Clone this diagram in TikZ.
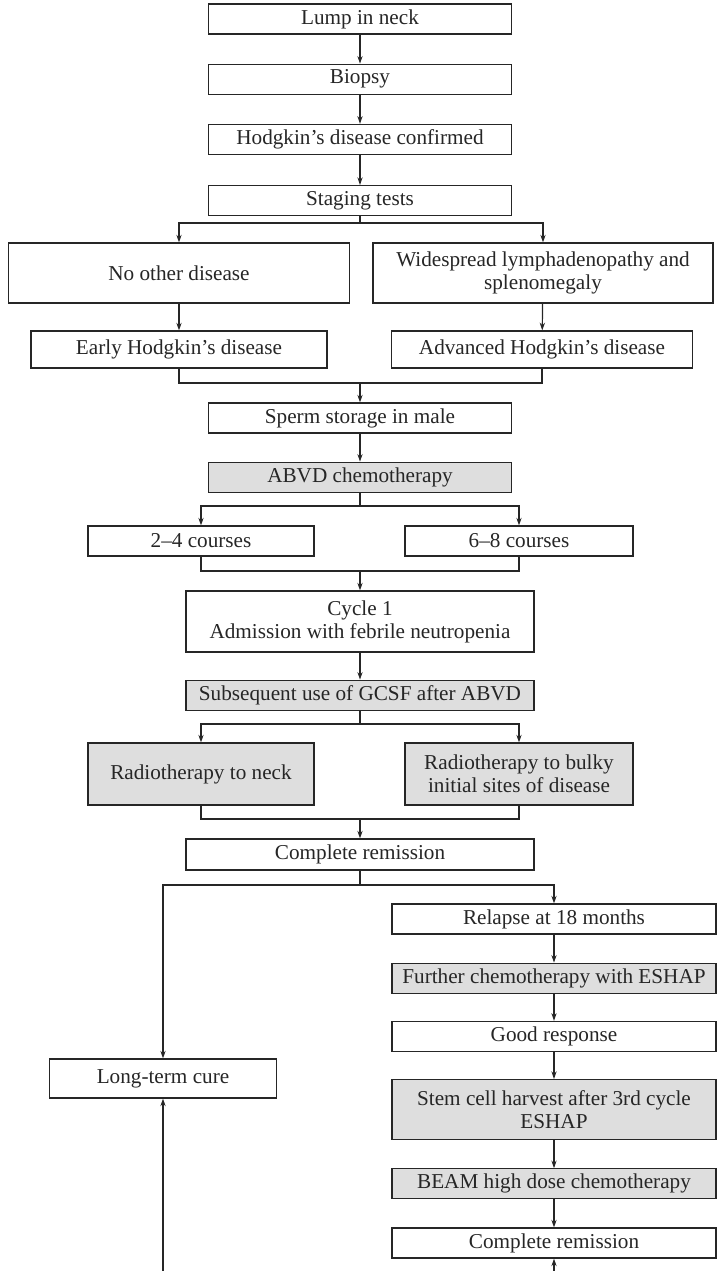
\documentclass[tikz,border=0pt]{standalone}
\usepackage{fontspec}
\setmainfont{Liberation Serif}
\usepackage{tikz}
\usetikzlibrary{positioning,arrows.meta}
\definecolor{ink}{gray}{0.15}
\definecolor{boxgray}{gray}{0.87}

\begin{document}
\begin{tikzpicture}[every node/.style={font=\fontsize{10.6pt}{11.5pt}\selectfont},
  >={Stealth[length=3.8pt,width=2.6pt]},
  box/.style={draw=ink,line width=0.6pt,fill=white,text=ink,inner sep=0pt,
    align=center,minimum height=15pt},
  shaded/.style={box,fill=boxgray},
  link/.style={draw=ink,line width=0.6pt}]
  \useasboundingbox (0pt,0pt) rectangle (358.5pt,-635.5pt);

  % first tests
  \node[box,minimum width=151.5pt] (lump) at (180pt,-9.5pt) {Lump in neck};
  \node[box,minimum width=151.5pt,below=14.5pt of lump] (biopsy) {Biopsy};
  \node[box,minimum width=151.5pt,below=14.5pt of biopsy] (confirm) {Hodgkin's disease confirmed};
  \node[box,minimum width=151.5pt,below=15pt of confirm] (staging) {Staging tests};

  \node[box,minimum width=170.5pt,minimum height=30pt] (noother) at (89.5pt,-136.5pt) {No other disease};
  \node[box,minimum width=170pt,minimum height=30pt] (spread) at (271.5pt,-136.5pt)
    {Widespread lymphadenopathy and\\ splenomegaly};
  \node[box,minimum width=148pt,minimum height=18.5pt] (early) at (89.5pt,-174.75pt) {Early Hodgkin's disease};
  \node[box,minimum width=150.5pt,minimum height=18.5pt] (advanced) at (271pt,-174.75pt) {Advanced Hodgkin's disease};

  % chemotherapy
  \node[box,minimum width=151.5pt] (sperm) at (180pt,-209pt) {Sperm storage in male};
  \node[shaded,minimum width=151.5pt,below=14pt of sperm] (abvd) {ABVD chemotherapy};
  \node[box,minimum width=113pt] (short) at (100.5pt,-270.5pt) {2--4 courses};
  \node[box,minimum width=114pt] (long) at (259.5pt,-270.5pt) {6--8 courses};
  \node[box,minimum width=174pt,minimum height=30.5pt] (cycle) at (180pt,-310.75pt)
    {Cycle 1\\ Admission with febrile neutropenia};
  \node[shaded,minimum width=174pt,below=13.5pt of cycle] (gcsf) {Subsequent use of GCSF after ABVD};
  \node[shaded,minimum width=113pt,minimum height=31pt] (rtneck) at (100.5pt,-387pt) {Radiotherapy to neck};
  \node[shaded,minimum width=114pt,minimum height=31pt] (rtbulky) at (259.5pt,-387pt)
    {Radiotherapy to bulky\\ initial sites of disease};
  \node[box,minimum width=174pt,minimum height=15.5pt] (remission) at (180pt,-427.25pt) {Complete remission};

  % outcome
  \node[box,minimum width=113.5pt,minimum height=19.5pt] (cure) at (81.5pt,-539.25pt) {Long-term cure};
  \node[box,minimum width=162pt] (relapse) at (277pt,-459.5pt) {Relapse at 18 months};
  \node[shaded,minimum width=162pt,below=14pt of relapse] (eshap) {Further chemotherapy with ESHAP};
  \node[box,minimum width=162pt,below=13.5pt of eshap] (good) {Good response};
  \node[shaded,minimum width=162pt,minimum height=30pt,below=13.5pt of good] (harvest)
    {Stem cell harvest after 3rd cycle\\ ESHAP};
  \node[shaded,minimum width=162pt,below=14pt of harvest] (beam) {BEAM high dose chemotherapy};
  \node[box,minimum width=162pt,below=14pt of beam] (remission2) {Complete remission};

  \coordinate (split1) at (180pt,-111.5pt);
  \coordinate (join1) at (180pt,-191.5pt);
  \coordinate (split2) at (180pt,-253pt);
  \coordinate (join2) at (180pt,-285.5pt);
  \coordinate (split3) at (180pt,-362pt);
  \coordinate (join3) at (180pt,-409.5pt);
  \coordinate (split4) at (180pt,-442.5pt);
  \coordinate (endcure) at (81.5pt,-635.5pt);
  \coordinate (endrem) at (277pt,-635.5pt);

  \draw[link,->] (lump) -- (biopsy);
  \draw[link,->] (biopsy) -- (confirm);
  \draw[link,->] (confirm) -- (staging);
  \draw[link] (staging) -- (split1);
  \draw[link,->] (split1) -| (noother.north);
  \draw[link,->] (split1) -| (spread.north);
  \draw[link,->] (noother) -- (early);
  \draw[link,->] (spread) -- (advanced);
  \draw[link] (early.south) |- (join1) -| (advanced.south);
  \draw[link,->] (join1) -- (sperm);
  \draw[link,->] (sperm) -- (abvd);
  \draw[link] (abvd) -- (split2);
  \draw[link,->] (split2) -| (short.north);
  \draw[link,->] (split2) -| (long.north);
  \draw[link] (short.south) |- (join2) -| (long.south);
  \draw[link,->] (join2) -- (cycle);
  \draw[link,->] (cycle) -- (gcsf);
  \draw[link] (gcsf) -- (split3);
  \draw[link,->] (split3) -| (rtneck.north);
  \draw[link,->] (split3) -| (rtbulky.north);
  \draw[link] (rtneck.south) |- (join3) -| (rtbulky.south);
  \draw[link,->] (join3) -- (remission);
  \draw[link] (remission) -- (split4);
  \draw[link,->] (split4) -| (cure.north);
  \draw[link,->] (split4) -| (relapse.north);
  \draw[link,->] (relapse) -- (eshap);
  \draw[link,->] (eshap) -- (good);
  \draw[link,->] (good) -- (harvest);
  \draw[link,->] (harvest) -- (beam);
  \draw[link,->] (beam) -- (remission2);
  \draw[link,->] (endcure) -- (cure);
  \draw[link,->] (endrem) -- (remission2);
\end{tikzpicture}
\end{document}
